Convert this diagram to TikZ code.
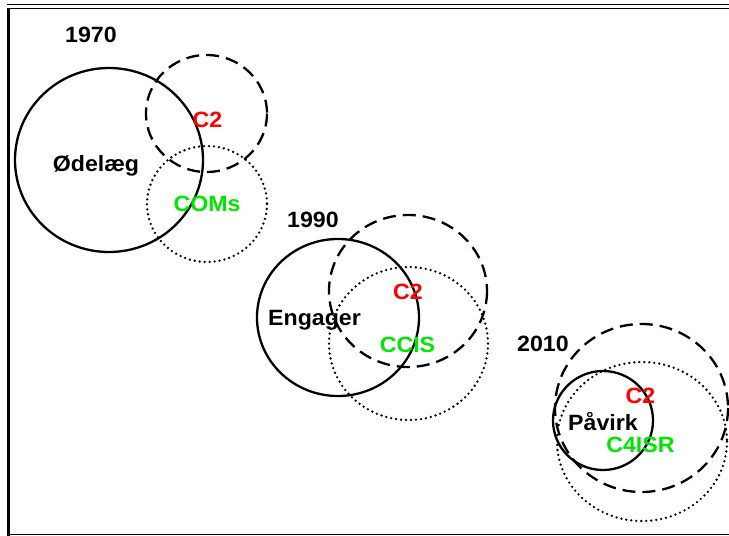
\documentclass[tikz,border=0pt]{standalone}
\usepackage{fontspec}
\setmainfont{Liberation Sans}
\usepackage{graphicx}
\definecolor{lblred}{RGB}{255,0,0}
\definecolor{lblgreen}{RGB}{0,230,0}
\newcommand{\wtxt}[1]{\scalebox{1.13}[1.08]{#1}}
\tikzset{
  solidring/.style={line width=2.3pt},
  dashring/.style={line width=2.3pt, dash pattern=on 13pt off 7pt},
  dotring/.style={line width=2.6pt, line cap=round, dash pattern=on 0pt off 5pt},
  lbl/.style={anchor=base, inner sep=0pt, font=\fontsize{20.5}{24}\selectfont\bfseries},
  redlbl/.style={lbl, text=lblred},
  greenlbl/.style={lbl, text=lblgreen},
  frameline/.style={line width=1.2pt}
}
\begin{document}
\begin{tikzpicture}[x=1pt,y=-1pt]
\useasboundingbox (0,0) rectangle (729,536);
\fill[white] (0,0) rectangle (729,536);
% frame
\draw[line width=1pt] (7,4.5) -- (729,4.5);
\draw[frameline] (10,8.5) -- (729,8.5);
\draw[line width=3pt] (8.5,8) -- (8.5,536);
\draw[frameline] (10,534.5) -- (729,534.5);
% 1970
\draw[solidring] (109,160) ellipse [x radius=94, y radius=92];
\draw[dashring] (206.5,113.5) ellipse [x radius=60.5, y radius=58.5];
\draw[dotring] (207,204) ellipse [x radius=60, y radius=58];
\node[lbl] (y1970) at (91,42) {\wtxt{1970}};
\node[lbl] (odelaeg) at (96,171.5) {\wtxt{Ødelæg}};
\node[redlbl] (c2a) at (207.5,127) {\wtxt{C2}};
\node[greenlbl] (coms) at (207,211) {\wtxt{COMs}};
% 1990
\draw[solidring] (338,317.5) ellipse [x radius=81, y radius=78.5];
\draw[dashring] (408,291) ellipse [x radius=79, y radius=76];
\draw[dotring] (408.5,343.5) ellipse [x radius=79.5, y radius=76.5];
\node[lbl] (y1990) at (313,227) {\wtxt{1990}};
\node[lbl] (engager) at (314.5,325) {\wtxt{Engager}};
\node[redlbl] (c2b) at (408,299) {\wtxt{C2}};
\node[greenlbl] (ccis) at (407.5,352) {\wtxt{CCIS}};
% 2010
\draw[solidring] (603,420.5) ellipse [x radius=50, y radius=49.5];
\draw[dashring] (641.5,408) ellipse [x radius=86.5, y radius=84];
\draw[dotring] (642,441.5) ellipse [x radius=85, y radius=79.5];
\node[lbl] (y2010) at (543,351) {\wtxt{2010}};
\node[lbl] (pavirk) at (603,430) {\wtxt{Påvirk}};
\node[redlbl] (c2c) at (640.5,403) {\wtxt{C2}};
\node[greenlbl] (c4isr) at (640.5,452) {\wtxt{C4ISR}};
\end{tikzpicture}
\end{document}
